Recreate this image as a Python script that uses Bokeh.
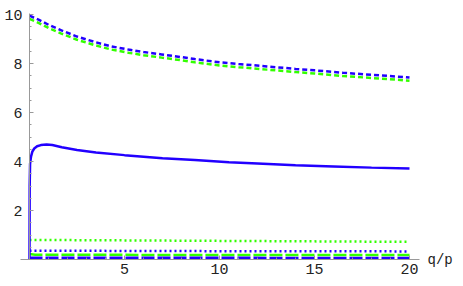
from bokeh.plotting import figure
from bokeh.models import Range1d, FixedTicker, Label
from bokeh.embed import file_html
from bokeh.resources import INLINE

# ---- data ----
top_x = [0, 0.5, 1, 1.68, 2.5, 3.47, 4.3, 5.2, 6, 6.95, 8, 8.7, 10, 11, 12.5, 14, 15, 16.5, 18, 20]
top_blue = [9.95, 9.78, 9.58, 9.35, 9.1, 8.87, 8.7, 8.57, 8.47, 8.37, 8.26, 8.18, 8.05, 7.98, 7.88, 7.78, 7.72, 7.62, 7.54, 7.43]
top_green = [9.82, 9.65, 9.45, 9.22, 8.97, 8.74, 8.57, 8.44, 8.34, 8.24, 8.13, 8.05, 7.92, 7.85, 7.75, 7.65, 7.59, 7.49, 7.41, 7.3]

solid_x = [0, 0.01, 0.03, 0.08, 0.15, 0.25, 0.4, 0.6, 0.9, 1.2, 1.7, 2.5, 3.5, 5, 7, 8.7, 10.5, 12, 14, 16, 18, 20]
solid_blue = [0, 3.0, 3.9, 4.2, 4.4, 4.53, 4.62, 4.67, 4.69, 4.67, 4.58, 4.47, 4.37, 4.26, 4.13, 4.06, 3.97, 3.92, 3.85, 3.8, 3.75, 3.71]

low_x = [0, 5, 10, 15, 20]
green_dotted = [0.8, 0.78, 0.76, 0.74, 0.72]
blue_dotted = [0.36, 0.35, 0.34, 0.34, 0.33]
green_dashed_x = [0, 0.3, 5, 10, 15, 20]
green_dashed = [0.22, 0.19, 0.19, 0.18, 0.18, 0.18]
blue_dashed = [0.07, 0.07, 0.07, 0.06, 0.06]

x_major = [5, 10, 15, 20]
x_minor = [i for i in range(1, 21) if i % 5]
y_major = [2, 4, 6, 8, 10]
y_minor = [0.5 * i for i in range(1, 21) if i % 4]

BLUE = "#2200ff"
GREEN = "#33ff00"

# ---- layout ----
W, H = 455, 278
x0px, xs = 29.0, 19.0
y0px, ys = 259.0, 24.5

p = figure(width=W, height=H, output_backend="svg", toolbar_location=None,
           x_range=Range1d(-x0px / xs, (W - x0px) / xs),
           y_range=Range1d(-(H - y0px) / ys, y0px / ys),
           min_border=0, outline_line_color=None, background_fill_color="white",
           border_fill_color="white")
p.grid.visible = False

for ax in (p.xaxis[0], p.yaxis[0]):
    ax.fixed_location = 0
    ax.axis_line_color = "#999999"
    ax.axis_line_width = 1
    ax.major_tick_line_color = "#999999"
    ax.minor_tick_line_color = "#999999"
    ax.major_tick_in = 4
    ax.major_tick_out = 0
    ax.minor_tick_in = 2
    ax.minor_tick_out = 0
    ax.major_label_text_font = "Liberation Mono"
    ax.major_label_text_font_size = "15px"
    ax.major_label_text_color = "#222222"

p.xaxis.ticker = FixedTicker(ticks=x_major, minor_ticks=x_minor)
p.yaxis.ticker = FixedTicker(ticks=y_major, minor_ticks=y_minor)
p.xaxis.bounds = (-0.5, 20.5)
p.yaxis.bounds = (0, 10.05)
p.xaxis.major_label_standoff = 4
p.yaxis.major_label_standoff = 7

# ---- curves ----
p.line(top_x, top_green, line_color=GREEN, line_width=2.5, line_dash="5 3")
p.line(top_x, top_blue, line_color=BLUE, line_width=2.5, line_dash="5 3")
p.line(low_x, green_dotted, line_color=GREEN, line_width=2.5, line_dash="2 3")
p.line(low_x, blue_dotted, line_color=BLUE, line_width=2.5, line_dash="2 3")
p.line(green_dashed_x, green_dashed, line_color=GREEN, line_width=2.5, line_dash="13 3")
p.line(low_x, blue_dashed, line_color=BLUE, line_width=2.5, line_dash="13 3")
p.line(solid_x, solid_blue, line_color=BLUE, line_width=2.5)

p.add_layout(Label(x=20.95, y=0, text="q/p", text_font="Liberation Mono",
                   text_font_size="14px", text_color="#222222",
                   text_baseline="middle", text_align="left"))

open("out.html", "w").write(file_html(p, INLINE))
